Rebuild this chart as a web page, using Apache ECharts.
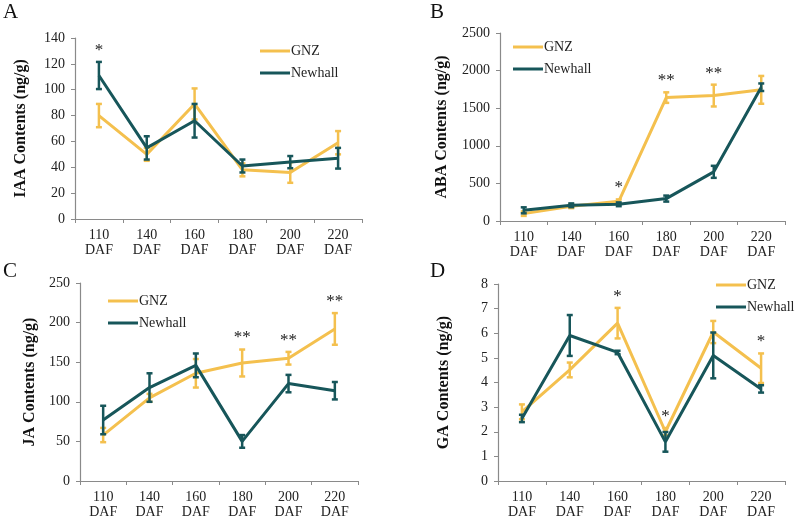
<!DOCTYPE html>
<html>
<head>
<meta charset="utf-8">
<script src="https://cdn.jsdelivr.net/npm/echarts@6/dist/echarts.min.js"></script>
<style>
  html, body { margin: 0; padding: 0; background: #fff; }
  #main { width: 796px; height: 521px; }
</style>
</head>
<body>
<div id="main"></div>
<script>
// 数据
const categories = ['110\nDAF', '140\nDAF', '160\nDAF', '180\nDAF', '200\nDAF', '220\nDAF'];

const iaaGNZ = [80, 50, 89, 38, 36, 59];
const iaaGNZErr = [9, 5, 12, 5, 8, 9];
const iaaNewhall = [111, 55, 76, 41, 44, 47];
const iaaNewhallErr = [10.5, 9, 13, 5, 4.7, 8];
const iaaStars = ['*', '', '', '', '', ''];

const abaGNZ = [98, 196, 262, 1641, 1668, 1744];
const abaGNZErr = [30, 25, 25, 70, 145, 185];
const abaNewhall = [142, 209, 222, 298, 654, 1779];
const abaNewhallErr = [40, 25, 25, 40, 80, 50];
const abaStars = ['', '', '*', '**', '**', ''];

const jaGNZ = [58, 105, 136, 149, 155, 192];
const jaGNZErr = [9, 5, 18, 17, 8, 20];
const jaNewhall = [77, 118, 146, 50, 123, 114];
const jaNewhallErr = [18, 18, 15, 8, 11, 11];
const jaStars = ['', '', '', '**', '**', '**'];

const gaGNZ = [2.81, 4.51, 6.41, 2.0, 6.05, 4.58];
const gaGNZErr = [0.3, 0.3, 0.62, 0.15, 0.45, 0.6];
const gaNewhall = [2.54, 5.91, 5.22, 1.59, 5.1, 3.74];
const gaNewhallErr = [0.15, 0.83, 0.07, 0.4, 0.93, 0.15];
const gaStars = ['', '', '*', '*', '', '*'];

const GNZ_COLOR = '#F4C04E';
const NEWHALL_COLOR = '#17565A';
const FONT = '"Liberation Serif", "Times New Roman", serif';

// 四个子图
const panels = [
  { letter: 'A', title: 'IAA Contents (ng/g)', max: 140, interval: 20, gnz: iaaGNZ, gnzErr: iaaGNZErr, nh: iaaNewhall, nhErr: iaaNewhallErr, stars: iaaStars,
    grid: { left: 75, top: 38, right: 434, bottom: 302 }, nameGap: 46, legend: { left: 260, top: 44 }, letterPos: [3, 2] },
  { letter: 'B', title: 'ABA Contents (ng/g)', max: 2500, interval: 500, gnz: abaGNZ, gnzErr: abaGNZErr, nh: abaNewhall, nhErr: abaNewhallErr, stars: abaStars,
    grid: { left: 500, top: 33, right: 11, bottom: 300 }, nameGap: 50, legend: { left: 513, top: 40 }, letterPos: [430, 2] },
  { letter: 'C', title: 'JA Contents (ng/g)', max: 250, interval: 50, gnz: jaGNZ, gnzErr: jaGNZErr, nh: jaNewhall, nhErr: jaNewhallErr, stars: jaStars,
    grid: { left: 80, top: 283, right: 438, bottom: 40 }, nameGap: 42, legend: { left: 108, top: 294 }, letterPos: [3, 261] },
  { letter: 'D', title: 'GA Contents (ng/g)', max: 8, interval: 1, gnz: gaGNZ, gnzErr: gaGNZErr, nh: gaNewhall, nhErr: gaNewhallErr, stars: gaStars,
    grid: { left: 498, top: 284, right: 11, bottom: 40 }, nameGap: 46, legend: { left: 716, top: 278 }, letterPos: [430, 261] }
];

function errorBarSeries(idx, name, values, errs, color) {
  return {
    type: 'custom',
    name: name,
    xAxisIndex: idx,
    yAxisIndex: idx,
    z: 3,
    data: values.map((v, i) => [i, v - errs[i], v + errs[i]]),
    renderItem: function (params, api) {
      const lo = api.coord([api.value(0), api.value(1)]);
      const hi = api.coord([api.value(0), api.value(2)]);
      const w = 3;
      const style = { stroke: color, lineWidth: 2.5 };
      return {
        type: 'group',
        children: [
          { type: 'line', shape: { x1: lo[0], y1: lo[1], x2: hi[0], y2: hi[1] }, style: style },
          { type: 'line', shape: { x1: lo[0] - w, y1: lo[1], x2: lo[0] + w, y2: lo[1] }, style: style },
          { type: 'line', shape: { x1: hi[0] - w, y1: hi[1], x2: hi[0] + w, y2: hi[1] }, style: style }
        ]
      };
    }
  };
}

function starSeries(idx, p) {
  return {
    type: 'custom',
    xAxisIndex: idx,
    yAxisIndex: idx,
    z: 5,
    silent: true,
    data: p.stars.map((s, i) => [i, Math.max(p.gnz[i] + p.gnzErr[i], p.nh[i] + p.nhErr[i])]),
    renderItem: function (params, api) {
      const star = p.stars[params.dataIndex];
      if (!star) return null;
      const pt = api.coord([api.value(0), api.value(1)]);
      return {
        type: 'text',
        x: pt[0],
        y: pt[1] - 3,
        style: {
          text: star,
          fontFamily: FONT,
          fontSize: 17,
          fill: '#222',
          align: 'center',
          verticalAlign: 'bottom'
        }
      };
    }
  };
}

const option = {
  animation: false,
  backgroundColor: '#fff',
  grid: panels.map(p => p.grid),
  legend: panels.map(p => ({
    left: p.legend.left,
    top: p.legend.top,
    padding: 0,
    orient: 'vertical',
    icon: 'rect',
    itemWidth: 30,
    itemHeight: 3,
    itemGap: 8,
    textStyle: { fontFamily: FONT, fontSize: 14, color: '#222', padding: [0, 0, 0, -4] },
    data: ['GNZ', 'Newhall']
  })),
  graphic: panels.map(p => ({
    type: 'text',
    left: p.letterPos[0],
    top: p.letterPos[1],
    style: { text: p.letter, fontFamily: FONT, fontSize: 21, fill: '#111' }
  })),
  xAxis: panels.map((p, i) => ({
    type: 'category',
    gridIndex: i,
    data: categories,
    boundaryGap: true,
    axisLine: { lineStyle: { color: '#8a8a8a', width: 1.2 } },
    axisTick: { show: true, length: 4, lineStyle: { color: '#8a8a8a' } },
    axisLabel: { fontFamily: FONT, fontSize: 14, color: '#222', lineHeight: 15, margin: 9 }
  })),
  yAxis: panels.map((p, i) => ({
    type: 'value',
    gridIndex: i,
    min: 0,
    max: p.max,
    interval: p.interval,
    name: p.title,
    nameLocation: 'middle',
    nameRotate: 90,
    nameGap: p.nameGap,
    nameTextStyle: { fontFamily: FONT, fontSize: 16, fontWeight: 'bold', color: '#111' },
    axisLine: { show: true, lineStyle: { color: '#8a8a8a', width: 1.2 } },
    axisTick: { show: true, length: 4, lineStyle: { color: '#8a8a8a' } },
    axisLabel: { fontFamily: FONT, fontSize: 14, color: '#222', margin: 10, formatter: v => String(v) },
    splitLine: { show: false }
  })),
  series: []
};

panels.forEach((p, i) => {
  option.series.push({
    type: 'line', name: 'GNZ', xAxisIndex: i, yAxisIndex: i, data: p.gnz,
    showSymbol: false, symbol: 'none', z: 2,
    itemStyle: { color: GNZ_COLOR }, lineStyle: { color: GNZ_COLOR, width: 3 }
  });
  option.series.push(errorBarSeries(i, 'GNZ', p.gnz, p.gnzErr, GNZ_COLOR));
  option.series.push({
    type: 'line', name: 'Newhall', xAxisIndex: i, yAxisIndex: i, data: p.nh,
    showSymbol: false, symbol: 'none', z: 4,
    itemStyle: { color: NEWHALL_COLOR }, lineStyle: { color: NEWHALL_COLOR, width: 3 }
  });
  const nhErr = errorBarSeries(i, 'Newhall', p.nh, p.nhErr, NEWHALL_COLOR);
  nhErr.z = 4;
  option.series.push(nhErr);
  option.series.push(starSeries(i, p));
});

const chart = echarts.init(document.getElementById('main'), null, { renderer: 'canvas' });
chart.setOption(option);
</script>
</body>
</html>
